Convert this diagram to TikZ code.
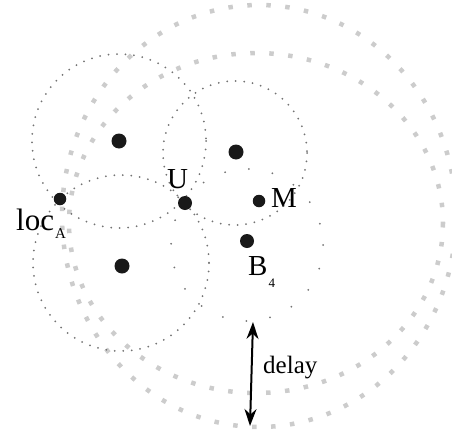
\documentclass[tikz,border=0pt]{standalone}
\usepackage{fontspec}
\setmainfont{Liberation Serif}
\usetikzlibrary{arrows.meta}

\begin{document}
\begin{tikzpicture}[x=1pt, y=-1pt,
  bigring/.style={draw=black!20, line width=4.5pt, dash pattern=on 4.5pt off 14.5pt},
  finering/.style={draw=black!55, line width=2pt, line cap=round, dash pattern=on 0pt off 8.5pt},
  sparsering/.style={draw=black!55, line width=2pt, line cap=round, dash pattern=on 0pt off 24pt},
  spot/.style={circle, fill=black!90, inner sep=0pt, minimum size=#1},
  spot/.default=14pt,
  lab/.style={font=\fontsize{29}{30}\selectfont, inner sep=0pt, anchor=base west}]
  \useasboundingbox (0,0) rectangle (452,431);
  % large grey rings
  \draw[bigring] (259,216) ellipse [x radius=197, y radius=211];
  \draw[bigring] (256,223) ellipse [x radius=187, y radius=170];
  % small rings, all through U
  \draw[finering] (119,141) circle [radius=87];
  \draw[finering] (235,153) circle [radius=72];
  \draw[finering] (121,263) circle [radius=88];
  \draw[sparsering] (247,245) circle [radius=76];
  % spots
  \node[spot=15pt]   (n1)   at (119,141) {};
  \node[spot=15pt]   (n2)   at (236,152) {};
  \node[spot=15pt]   (n3)   at (122,266) {};
  \node[spot]        (u)    at (185,203) {};
  \node[spot=12.5pt] (m)    at (259,201) {};
  \node[spot=12.5pt] (locA) at (60,199)  {};
  \node[spot]        (b4)   at (247,241) {};
  % labels
  \node[lab] (lu)   at (167,188) {U};
  \node[lab] (lm)   at (271,207) {M};
  \node[lab, font=\fontsize{31}{32}\selectfont] (lloc) at (16,230)
    {loc\hspace{1pt}\raisebox{-8pt}{\fontsize{15}{15}\selectfont A}};
  \node[lab] (lb4)  at (248,275) {B\hspace{1pt}\raisebox{-12pt}{\fontsize{13}{13}\selectfont 4}};
  % delay arrow
  \coordinate (dtop) at (253,322);
  \coordinate (dbot) at (250,426);
  \draw[line width=2pt, {Stealth[length=17pt,width=12pt]}-{Stealth[length=17pt,width=12pt]}] (dtop) -- (dbot);
  \node[font=\fontsize{25}{26}\selectfont, inner sep=0pt, anchor=base west] (ldelay) at (263,373) {delay};
\end{tikzpicture}
\end{document}
